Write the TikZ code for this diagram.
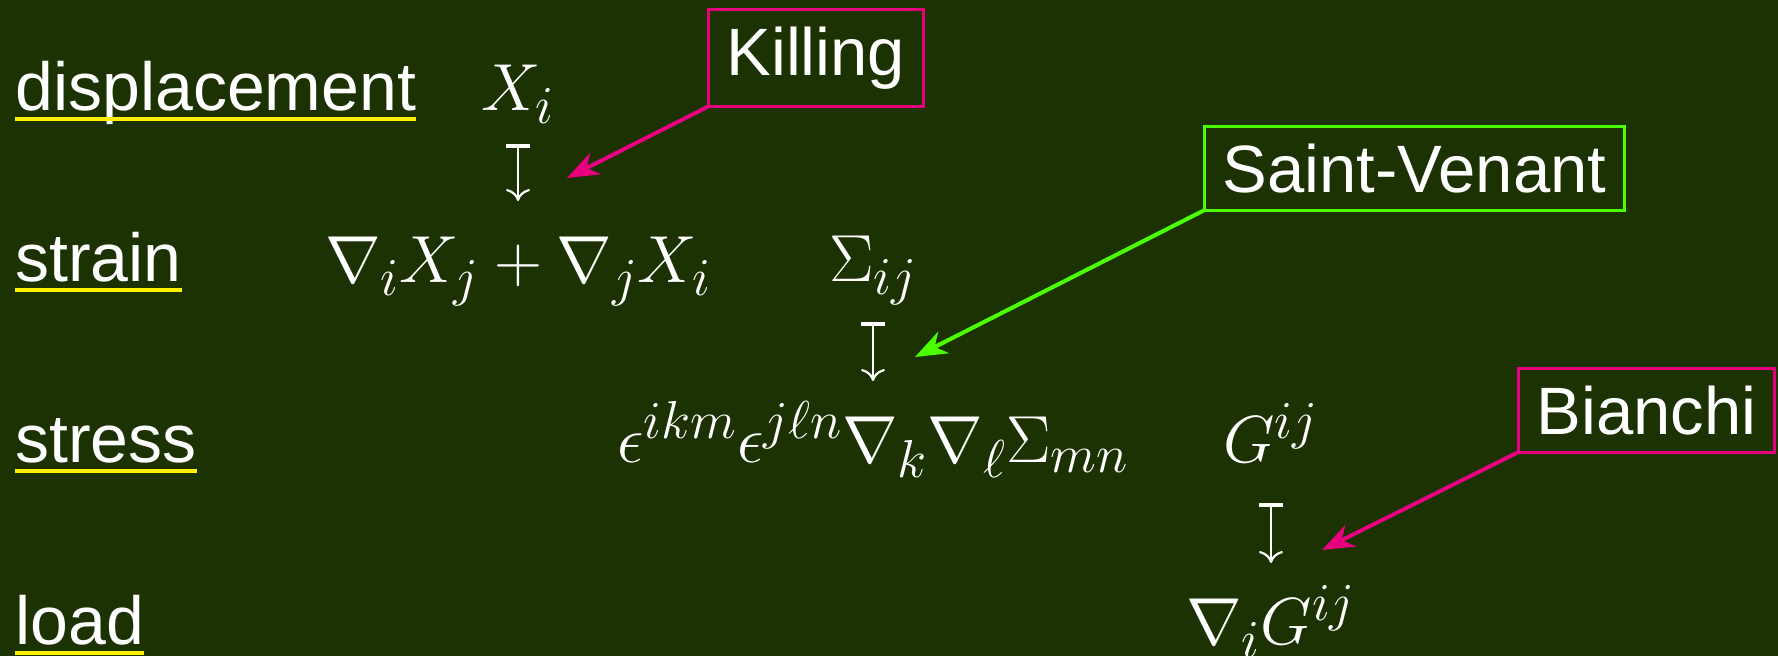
\RequirePackage{fix-cm}
\documentclass[tikz,border=0pt]{standalone}
\usepackage[no-math]{fontspec}
\setmainfont{Liberation Sans}
\usetikzlibrary{arrows.meta}
\DeclareMathSizes{33.3}{33.3}{26.7}{21}
\definecolor{Board}{HTML}{1C3203}
\definecolor{Fuchsia}{HTML}{E6007E}
\definecolor{Lime}{HTML}{4CFF00}
\definecolor{Marker}{HTML}{FFF000}

\begin{document}
\begin{tikzpicture}[x=0.5pt, y=-0.5pt,
    rowlbl/.style={anchor=base west, inner sep=0pt, text=white,
        font={\fontsize{34}{40}\selectfont}},
    term/.style={anchor=base, inner sep=0pt, text=white,
        font={\fontsize{33.3}{40}\selectfont}},
    namebox/.style={anchor=north west, draw=#1, line width=1.5pt,
        inner xsep=9pt, inner ysep=8.6pt, outer sep=0pt, text=white,
        font={\fontsize{33.5}{40}\selectfont}},
    uline/.style={Marker, line width=2pt},
    mapsarrow/.style={white, line width=1.1pt,
        {Bar[width=12pt,line width=2pt]}-{To[length=6pt,width=12pt]},
        shorten <=20pt, shorten >=41pt},
    hintarrow/.style={#1, line width=2pt,
        -{Stealth[length=16pt,width=12pt,inset=5pt]}}
]
\useasboundingbox (0,0) rectangle (1778,656);
\fill[Board] (0,0) rectangle (1778,656);

% =============================================
% Row labels
% =============================================
\node[rowlbl] (disp) at (15,111) {displacement};
\node[rowlbl] (strn) at (15,282) {strain};
\node[rowlbl] (strs) at (15,463) {stress};
\node[rowlbl] (load) at (15,645) {load};

\foreach \lbl in {disp,strn,strs,load}
    \draw[uline] ([yshift=-4pt]\lbl.base west) -- ([yshift=-4pt]\lbl.base east);

% =============================================
% Terms
% =============================================
\node[term] (xi) at (518,111) {$X_i$};
\node[term] (grad) at (518,283) {$\nabla_i X_j + \nabla_j X_i$};
\node[term] (sig) at (873,282) {$\Sigma_{ij}$};
\node[term] (inc) at (873,463) {$\epsilon^{ikm}\epsilon^{j\ell n}\nabla_k\nabla_\ell\Sigma_{mn}$};
\node[term] (ein) at (1271,463) {$G^{ij}$};
\node[term] (div) at (1271,645) {$\nabla_i G^{ij}$};

% maps
\draw[mapsarrow, shorten <=16.5pt] (xi.base) -- (grad.base);
\draw[mapsarrow] (sig.base) -- (inc.base);
\draw[mapsarrow] (ein.base) -- (div.base);

% =============================================
% Names
% =============================================
\node[namebox=Fuchsia] (kil) at (708.5,9.5) {Killing};
\node[namebox=Lime] (stv) at (1204.5,126.5) {Saint-Venant};
\node[namebox=Fuchsia] (bia) at (1518.5,368.5) {Bianchi};

\coordinate (kiltip) at (567,178);
\coordinate (stvtip) at (915,357);
\coordinate (biatip) at (1322,550);

\draw[hintarrow=Fuchsia] (kil.south west) -- (kiltip);
\draw[hintarrow=Lime] (stv.south west) -- (stvtip);
\draw[hintarrow=Fuchsia] (bia.south west) -- (biatip);

\end{tikzpicture}
\end{document}
